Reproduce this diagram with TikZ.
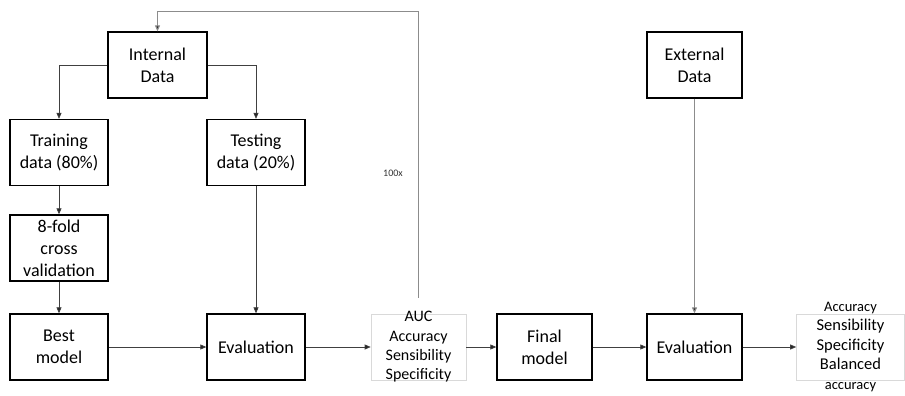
\documentclass[tikz,border=0pt]{standalone}
\usepackage{fontspec}
\setmainfont{Carlito}
\usetikzlibrary{arrows.meta}
\begin{document}
\begin{tikzpicture}[x=1pt,y=-1pt,
  box/.style={draw=black,line width=1.3pt,minimum width=98pt,minimum height=66pt,inner sep=0pt,align=center,font=\fontsize{18}{22}\selectfont},
  lightbox/.style={draw=black!15,line width=0.6pt,minimum width=95pt,minimum height=66pt,inner sep=0pt},
  lighttext/.style={inner sep=0pt,align=center,font=\fontsize{16}{19.3}\selectfont},
  arr/.style={draw=black!75,line width=0.7pt,-{Triangle[length=6pt,width=5pt,fill=black!85]}},
  grayarr/.style={draw=black!45,line width=1pt,-{Triangle[length=6pt,width=5pt,fill=black!85]}}
]
\useasboundingbox (0,0) rectangle (905,396);
\node[box,minimum width=99pt] (int) at (157.5,65) {Internal\\Data};
\node[box] (train) at (59,152.5) {Training\\data (80\%)};
\node[box] (test) at (256,152.5) {Testing\\data (20\%)};
\node[box] (cv) at (59,248) {8-fold\\cross\\validation};
\node[box] (best) at (59,347) {Best\\model};
\node[box] (eval1) at (256,347) {Evaluation};
\node[lightbox] (auc) at (418.5,347) {};
\node[lighttext] (auctext) at (auc.center) {AUC\\Accuracy\\Sensibility\\Specificity};
\node[box,minimum width=95pt] (final) at (544.5,347) {Final\\model};
\node[box,minimum width=95pt] (eval2) at (694.5,347) {Evaluation};
\node[box,minimum width=95pt] (ext) at (694.5,65) {External\\Data};
\node[lightbox,minimum width=108pt] (res) at (850.5,347) {};
\node[lighttext,font=\fontsize{16.5}{19.5}\selectfont] (restext) at ([yshift=0pt]res.center) {{\fontsize{14.5}{19.5}\selectfont Accuracy}\\Sensibility\\Specificity\\Balanced\\{\fontsize{14.5}{19.5}\selectfont accuracy}};
\node[font=\fontsize{10}{12}\selectfont,text=black!80] (lbl) at (393,173) {100x};
\draw[arr] (int.west) -| (train.north);
\draw[arr] (int.east) -| (test.north);
\draw[arr] (train) -- (cv);
\draw[arr] (cv) -- (best);
\draw[arr] (test) -- (eval1);
\draw[arr] (best) -- (eval1);
\draw[arr] (eval1) -- (auc);
\draw[arr] (auc) -- (final);
\draw[arr] (final) -- (eval2);
\draw[arr] (eval2) -- (res);
\draw[grayarr] (ext) -- (eval2);
\draw[grayarr] ([yshift=16pt]auc.north) |- ([yshift=20pt]int.north) -- (int.north);
\end{tikzpicture}
\end{document}
